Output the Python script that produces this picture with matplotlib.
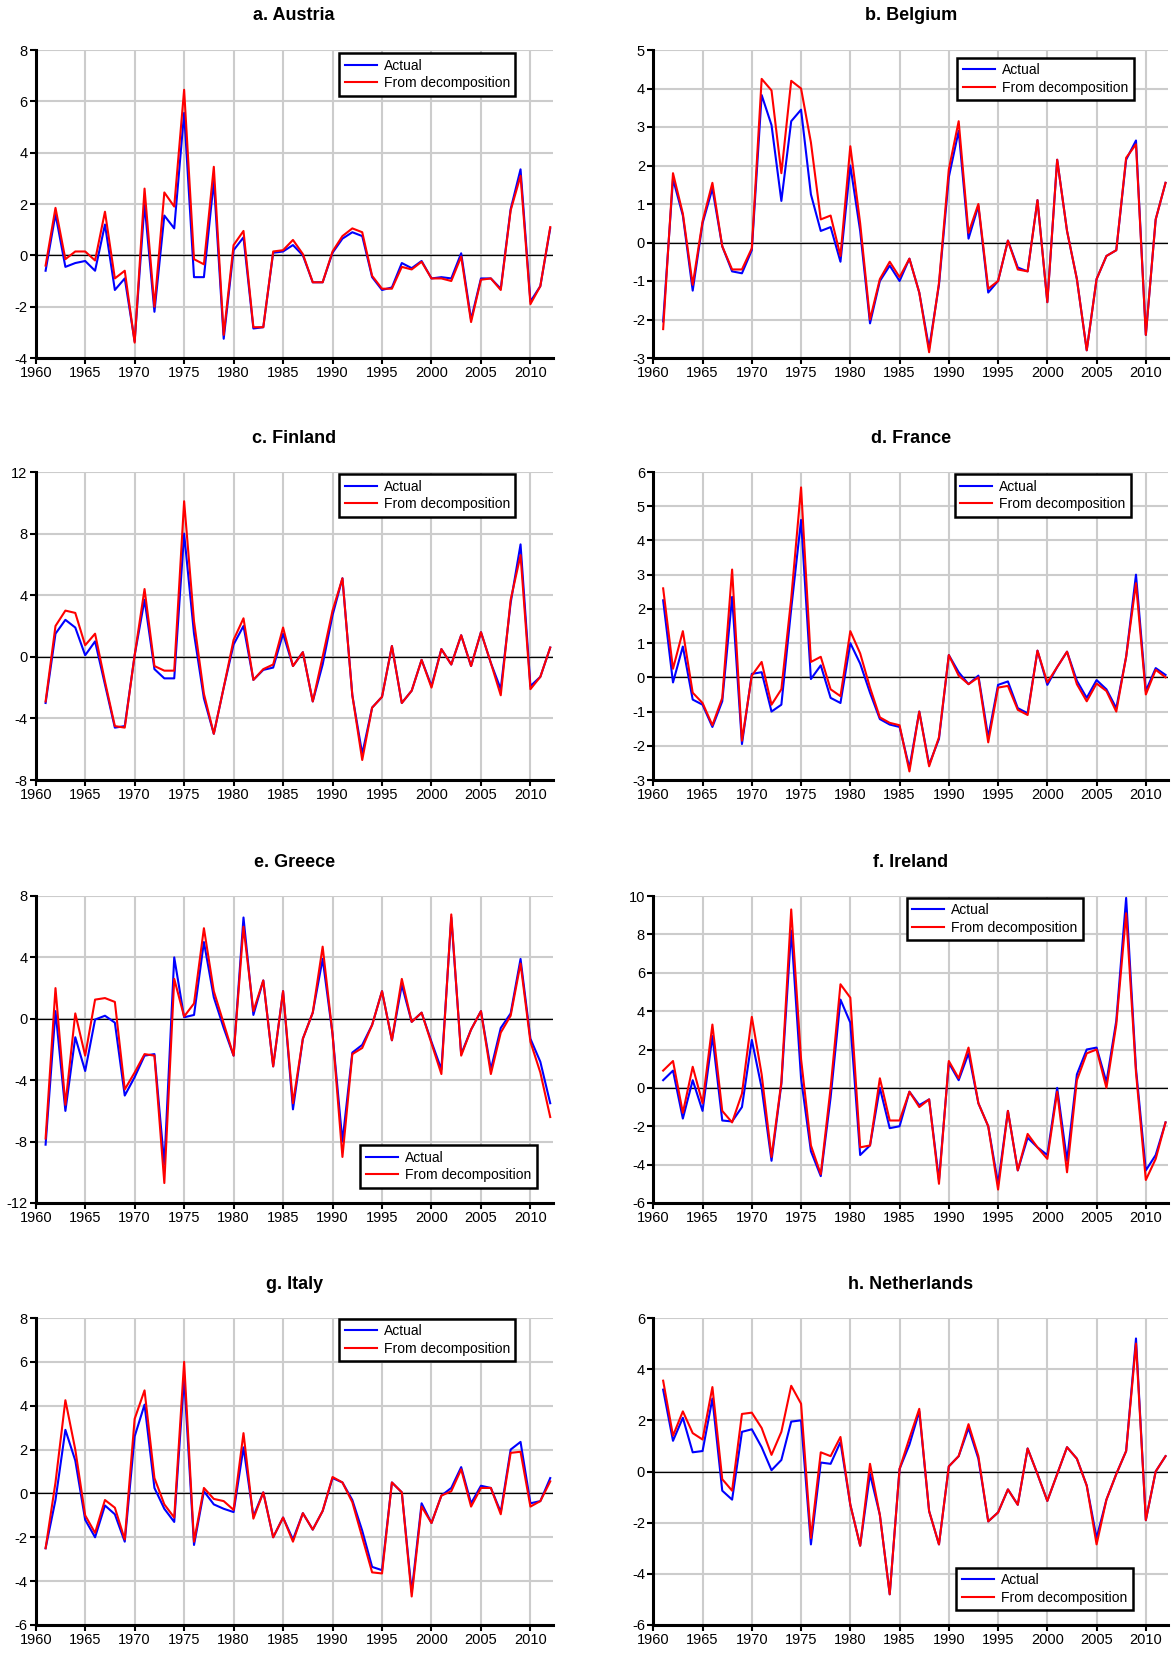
import numpy as np
import matplotlib
matplotlib.use("Agg")
import matplotlib.pyplot as plt
from matplotlib.ticker import MultipleLocator

plt.rcParams['font.family'] = ['Liberation Sans', 'DejaVu Sans']
plt.rcParams['axes.unicode_minus'] = False

years = np.arange(1961, 2013)

austria_actual = [-0.6, 1.6, -0.45, -0.3, -0.22, -0.6, 1.2, -1.35, -0.9, -3.35,
                  2.0, -2.2, 1.55, 1.05, 5.55, -0.85, -0.85, 2.9, -3.25, 0.2,
                  0.7, -2.85, -2.8, 0.1, 0.15, 0.4, 0.0, -1.05, -1.05, 0.1,
                  0.65, 0.9, 0.75, -0.85, -1.35, -1.25, -0.3, -0.5, -0.22, -0.9,
                  -0.85, -0.9, 0.08, -2.5, -0.9, -0.9, -1.3, 1.8, 3.35, -1.8,
                  -1.2, 1.05]
austria_decomp = [-0.4, 1.85, -0.15, 0.15, 0.15, -0.2, 1.7, -0.9, -0.6, -3.4,
                  2.6, -2.0, 2.45, 1.9, 6.45, -0.15, -0.35, 3.45, -3.1, 0.4,
                  0.95, -2.8, -2.8, 0.15, 0.2, 0.6, 0.05, -1.05, -1.05, 0.15,
                  0.75, 1.05, 0.9, -0.8, -1.3, -1.3, -0.45, -0.55, -0.25, -0.9,
                  -0.9, -1.0, -0.05, -2.6, -0.95, -0.9, -1.35, 1.75, 3.1, -1.9,
                  -1.2, 1.1]

belgium_actual = [-2.05, 1.65, 0.7, -1.25, 0.5, 1.4, -0.1, -0.75, -0.8, -0.2,
                  3.83, 3.05, 1.08, 3.15, 3.45, 1.25, 0.3, 0.4, -0.5, 2.0,
                  0.3, -2.1, -1.0, -0.6, -1.0, -0.42, -1.3, -2.75, -1.1, 1.7,
                  2.9, 0.1, 0.95, -1.3, -1.0, 0.05, -0.65, -0.75, 1.1, -1.55,
                  2.15, 0.3, -0.95, -2.8, -0.95, -0.35, -0.2, 2.15, 2.65, -2.4,
                  0.6, 1.55]
belgium_decomp = [-2.25, 1.8, 0.75, -1.1, 0.55, 1.55, -0.1, -0.7, -0.7, -0.15,
                  4.25, 3.95, 1.8, 4.2, 4.0, 2.6, 0.6, 0.7, -0.35, 2.5,
                  0.5, -2.0, -0.95, -0.5, -0.9, -0.42, -1.3, -2.85, -1.05, 1.9,
                  3.15, 0.25, 1.0, -1.2, -1.0, 0.05, -0.7, -0.75, 1.1, -1.55,
                  2.15, 0.3, -0.95, -2.8, -0.95, -0.35, -0.2, 2.2, 2.55, -2.4,
                  0.6, 1.55]

finland_actual = [-3.0, 1.5, 2.4, 1.9, 0.1, 1.0, -1.8, -4.6, -4.5, 0.1,
                  3.7, -0.8, -1.4, -1.4, 8.0, 1.5, -2.7, -5.0, -2.0, 0.8,
                  2.0, -1.5, -0.85, -0.7, 1.5, -0.6, 0.3, -2.9, -0.5, 2.7,
                  5.1, -2.5, -6.3, -3.3, -2.6, 0.7, -3.0, -2.2, -0.2, -1.9,
                  0.5, -0.5, 1.4, -0.6, 1.6, -0.4, -2.1, 3.5, 7.3, -1.9,
                  -1.3, 0.6]
finland_decomp = [-2.9, 2.0, 3.0, 2.85, 0.75, 1.5, -1.6, -4.5, -4.6, 0.1,
                  4.4, -0.6, -0.9, -0.9, 10.1, 2.3, -2.4, -5.0, -2.0, 1.1,
                  2.5, -1.5, -0.8, -0.5, 1.9, -0.6, 0.3, -2.9, 0.0, 3.0,
                  5.1, -2.5, -6.7, -3.3, -2.6, 0.7, -3.0, -2.2, -0.2, -2.0,
                  0.5, -0.5, 1.4, -0.6, 1.6, -0.4, -2.5, 3.7, 6.6, -2.1,
                  -1.3, 0.6]

france_actual = [2.25, -0.15, 0.9, -0.65, -0.8, -1.45, -0.7, 2.35, -1.95, 0.1,
                 0.15, -1.0, -0.8, 2.0, 4.6, -0.05, 0.35, -0.6, -0.75, 1.0,
                 0.4, -0.45, -1.22, -1.38, -1.45, -2.65, -1.0, -2.55, -1.8, 0.65,
                 0.15, -0.2, 0.05, -1.75, -0.22, -0.12, -0.9, -1.05, 0.78, -0.22,
                 0.3, 0.75, -0.1, -0.6, -0.08, -0.35, -0.9, 0.6, 3.0, -0.4,
                 0.27, 0.07]
france_decomp = [2.6, 0.25, 1.35, -0.45, -0.75, -1.4, -0.6, 3.15, -1.85, 0.05,
                 0.45, -0.8, -0.35, 2.3, 5.55, 0.45, 0.6, -0.35, -0.55, 1.35,
                 0.7, -0.3, -1.17, -1.33, -1.4, -2.75, -1.0, -2.6, -1.75, 0.65,
                 0.05, -0.2, 0.0, -1.9, -0.3, -0.25, -0.95, -1.1, 0.78, -0.15,
                 0.3, 0.75, -0.2, -0.7, -0.18, -0.4, -1.0, 0.6, 2.75, -0.5,
                 0.22, 0.0]

greece_actual = [-8.2, 0.5, -6.0, -1.2, -3.4, -0.05, 0.2, -0.25, -5.0, -3.8,
                 -2.4, -2.3, -9.5, 4.0, 0.1, 0.25, 5.0, 1.4, -0.6, -2.4,
                 6.6, 0.25, 2.5, -3.1, 1.8, -5.9, -1.3, 0.4, 3.9, -1.0,
                 -8.0, -2.2, -1.7, -0.4, 1.8, -1.4, 2.2, -0.2, 0.4, -1.5,
                 -3.3, 6.6, -2.3, -0.7, 0.5, -3.3, -0.6, 0.35, 3.9, -1.3,
                 -2.8, -5.5]
greece_decomp = [-7.8, 2.0, -5.6, 0.35, -2.4, 1.25, 1.35, 1.1, -4.6, -3.5,
                 -2.3, -2.4, -10.7, 2.6, 0.15, 1.0, 5.9, 1.8, -0.3, -2.4,
                 6.0, 0.5, 2.5, -3.1, 1.8, -5.5, -1.3, 0.4, 4.7, -1.0,
                 -9.0, -2.3, -1.9, -0.4, 1.8, -1.4, 2.6, -0.2, 0.4, -1.6,
                 -3.6, 6.8, -2.4, -0.7, 0.5, -3.6, -0.9, 0.2, 3.6, -1.5,
                 -3.5, -6.4]

ireland_actual = [0.4, 0.9, -1.6, 0.4, -1.2, 2.7, -1.7, -1.75, -1.0, 2.5,
                  0.0, -3.8, 0.2, 8.2, 0.5, -3.3, -4.6, -0.5, 4.6, 3.4,
                  -3.5, -3.0, 0.0, -2.1, -2.0, -0.2, -0.9, -0.6, -4.8, 1.3,
                  0.4, 1.8, -0.8, -2.0, -5.0, -1.2, -4.3, -2.6, -3.1, -3.5,
                  0.0, -3.8, 0.7, 2.0, 2.1, 0.3, 3.5, 9.9, 1.0, -4.3,
                  -3.5, -1.8]
ireland_decomp = [0.9, 1.4, -1.3, 1.1, -0.8, 3.3, -1.2, -1.8, -0.3, 3.7,
                  0.7, -3.6, 0.3, 9.3, 1.5, -3.0, -4.5, 0.0, 5.4, 4.7,
                  -3.1, -3.0, 0.5, -1.7, -1.7, -0.2, -1.0, -0.6, -5.0, 1.4,
                  0.5, 2.1, -0.8, -2.0, -5.3, -1.2, -4.3, -2.4, -3.1, -3.7,
                  -0.2, -4.4, 0.4, 1.8, 2.0, 0.0, 3.3, 9.1, 0.8, -4.8,
                  -3.7, -1.8]

italy_actual = [-2.5, -0.3, 2.9, 1.5, -1.2, -2.0, -0.55, -0.95, -2.2, 2.6,
                4.05, 0.25, -0.7, -1.3, 5.3, -2.35, 0.1, -0.5, -0.7, -0.85,
                2.1, -1.05, 0.05, -2.0, -1.1, -2.1, -0.9, -1.65, -0.8, 0.7,
                0.5, -0.3, -1.7, -3.35, -3.5, 0.5, 0.05, -4.5, -0.45, -1.35,
                -0.1, 0.25, 1.2, -0.45, 0.35, 0.25, -0.85, 2.0, 2.35, -0.45,
                -0.35, 0.7]
italy_decomp = [-2.5, 0.5, 4.25, 2.0, -1.0, -1.8, -0.3, -0.65, -2.1, 3.4,
                4.7, 0.7, -0.5, -1.1, 6.0, -2.2, 0.25, -0.25, -0.35, -0.75,
                2.75, -1.15, 0.05, -2.0, -1.1, -2.2, -0.9, -1.65, -0.8, 0.75,
                0.5, -0.4, -2.0, -3.6, -3.65, 0.5, 0.05, -4.7, -0.6, -1.35,
                -0.1, 0.1, 1.1, -0.6, 0.25, 0.25, -0.95, 1.85, 1.9, -0.6,
                -0.35, 0.55]

netherlands_actual = [3.2, 1.2, 2.1, 0.75, 0.8, 2.85, -0.75, -1.1, 1.55, 1.65,
                      0.95, 0.05, 0.45, 1.95, 2.0, -2.85, 0.35, 0.3, 1.15, -1.3,
                      -2.9, -0.1, -1.7, -4.8, 0.1, 1.05, 2.35, -1.55, -2.85, 0.2,
                      0.6, 1.7, 0.5, -1.95, -1.6, -0.7, -1.3, 0.9, -0.1, -1.15,
                      -0.1, 0.95, 0.5, -0.55, -2.6, -1.1, -0.1, 0.8, 5.2, -1.9,
                      0.0, 0.6]
netherlands_decomp = [3.55, 1.4, 2.35, 1.5, 1.25, 3.3, -0.3, -0.75, 2.25, 2.3,
                      1.7, 0.65, 1.55, 3.35, 2.65, -2.6, 0.75, 0.6, 1.35, -1.3,
                      -2.9, 0.3, -1.7, -4.8, 0.1, 1.3, 2.45, -1.55, -2.85, 0.2,
                      0.6, 1.85, 0.6, -1.95, -1.6, -0.7, -1.3, 0.9, -0.1, -1.15,
                      -0.1, 0.95, 0.5, -0.55, -2.85, -1.1, -0.1, 0.8, 5.0, -1.9,
                      0.0, 0.6]

titles = ["a. Austria", "b. Belgium", "c. Finland", "d. France",
          "e. Greece", "f. Ireland", "g. Italy", "h. Netherlands"]
series_actual = [austria_actual, belgium_actual, finland_actual, france_actual,
                 greece_actual, ireland_actual, italy_actual, netherlands_actual]
series_decomp = [austria_decomp, belgium_decomp, finland_decomp, france_decomp,
                 greece_decomp, ireland_decomp, italy_decomp, netherlands_decomp]
y_limits = [(-4, 8), (-3, 5), (-8, 12), (-3, 6), (-12, 8), (-6, 10), (-6, 8), (-6, 6)]
y_steps = [2, 1, 4, 1, 4, 2, 2, 2]
labels = ["Actual", "From decomposition"]

W, H = 1175, 1653
fig = plt.figure(figsize=(W / 100, H / 100), dpi=100)

col_x = [(35.7, 552.7), (653.3, 1168.0)]
row_y = [(50, 358), (472, 780), (896, 1203), (1318, 1625)]
# legend placement: (x, y, loc) in axes coords
leg_pos = [((0.587, 0.99), 'upper left'), ((0.591, 0.975), 'upper left'),
           ((0.587, 0.993), 'upper left'), ((0.586, 0.993), 'upper left'),
           ((0.628, 0.05), 'lower left'), ((0.492, 0.995), 'upper left'),
           ((0.587, 0.998), 'upper left'), ((0.589, 0.048), 'lower left')]

for i in range(8):
    r, c = divmod(i, 2)
    x0, x1 = col_x[c]
    yt, yb = row_y[r]
    ax = fig.add_axes([x0 / W, 1 - yb / H, (x1 - x0) / W, (yb - yt) / H])
    ax.set_xlim(1960, 2012.25)
    ax.set_ylim(*y_limits[i])
    ax.xaxis.set_major_locator(MultipleLocator(5))
    ax.yaxis.set_major_locator(MultipleLocator(y_steps[i]))
    ax.grid(True, color='#cccccc', lw=1.5, zorder=0)
    ax.set_axisbelow(True)
    ax.axhline(0, color='black', lw=0.9, zorder=1)
    ax.plot(years, series_actual[i], color='#0000ff', lw=1.5, label=labels[0], zorder=2)
    ax.plot(years, series_decomp[i], color='#ff0000', lw=1.5, label=labels[1], zorder=3)
    for s in ['top', 'right']:
        ax.spines[s].set_visible(False)
    for s in ['left', 'bottom']:
        ax.spines[s].set_linewidth(2.2)
        ax.spines[s].set_color('black')
        ax.spines[s].set_zorder(5)
    ax.tick_params(direction='out', length=4, width=1.5, labelsize=10.5, pad=2,
                   colors='black')
    ax.text(0.5, 1 + 34 / 308, titles[i], transform=ax.transAxes, ha='center',
            va='center', fontsize=13, fontweight='bold')
    (lx, ly), loc = leg_pos[i]
    leg = ax.legend(loc=loc, bbox_to_anchor=(lx, ly), fontsize=10, frameon=True,
                    fancybox=False, edgecolor='black', framealpha=1,
                    handlelength=2.3, handletextpad=0.5, labelspacing=0.25,
                    borderpad=0.4, borderaxespad=0)
    leg.get_frame().set_linewidth(1.8)

fig.savefig("out.png", dpi=100)
